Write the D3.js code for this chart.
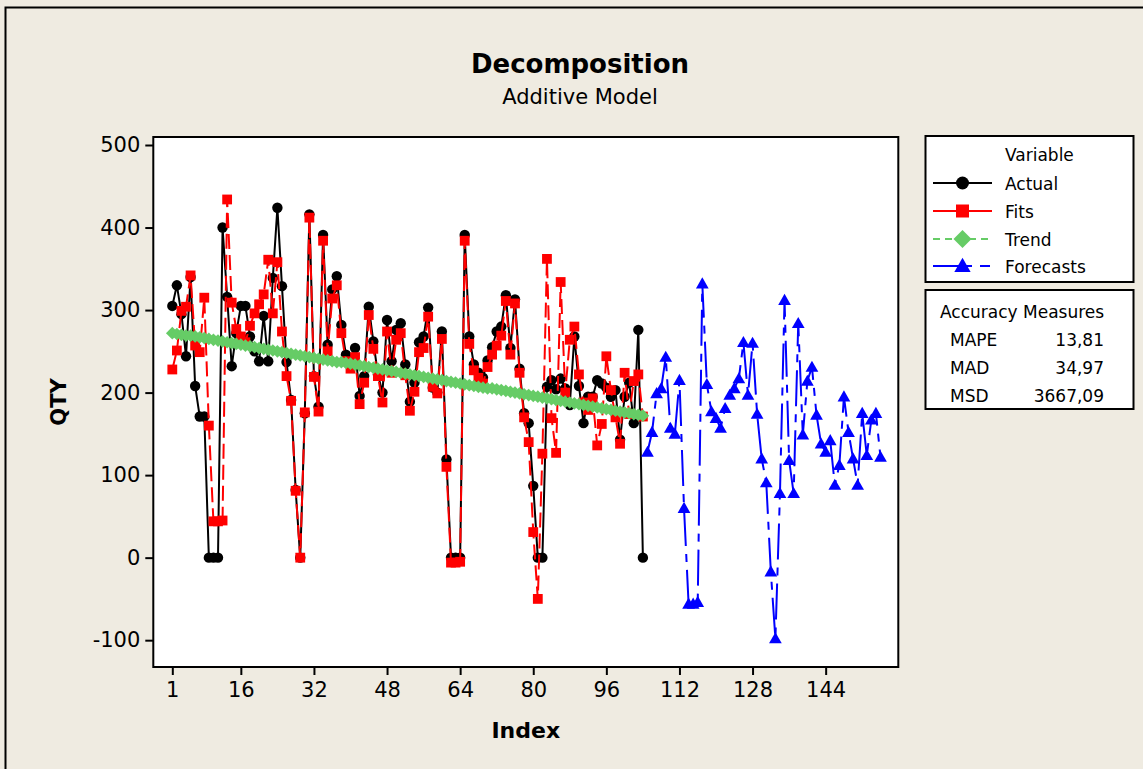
<!DOCTYPE html>
<html><head><meta charset="utf-8">
<script src="https://cdn.jsdelivr.net/npm/d3@7"></script>
<style>
body{margin:0;background:#efebe1;}
svg{display:block;font-family:"DejaVu Sans",Verdana,sans-serif;}
</style>
</head><body>
<svg id="chart" width="1143" height="769"></svg>
<script>
// ---------- data ----------
const actual = [305,330,295,244,340,208,171,171,0,0,0,400,316,232,272,305,305,268,250,238,
  293,238,339,424,329,237,191,82,0,175,416,220,183,391,258,325,341,282,246,238,
  254,196,220,304,262,222,200,288,238,276,284,234,189,212,261,268,303,206,200,274,
  119,0,0,0,391,268,234,224,218,239,255,274,280,318,254,313,229,175,163,87,
  0,0,207,215,204,217,205,185,268,208,163,195,195,215,211,206,195,203,143,195,
  212,163,276,0];
const fits = [228,251,299,304,342,257,249,315,160,44,44,45,434,309,277,268,261,281,296,307,
  319,361,296,358,274,220,190,81,0,176,412,219,177,384,250,314,330,272,238,229,
  243,186,212,294,253,220,188,274,224,264,272,221,178,201,249,254,292,207,199,265,
  110,-6,-6,-5,384,259,227,218,211,231,246,257,269,311,246,308,224,170,140,31,
  -50,126,362,169,127,334,200,264,280,222,188,179,193,136,162,244,203,170,138,224,
  174,214,222,171];
const trend = [272,271,270,269,269,268,267,266,265,264,263,262,261,260,259,258,257,256,255,254,
  253,252,251,250,249,248,247,246,245,244,243,242,241,240,239,238,237,237,236,235,
  234,233,232,231,230,229,228,227,226,225,224,223,222,221,220,219,218,217,216,215,
  214,213,212,211,210,209,208,207,206,205,205,204,203,202,201,200,199,198,197,196,
  195,194,193,192,191,190,189,188,187,186,185,184,183,182,181,180,179,178,177,176,
  175,174,173,172];
const forecasts = [128,152,199,205,243,157,150,215,60,-56,-56,-54,332,210,177,169,157,181,197,205,
  217,261,197,260,174,120,91,-17,-98,78,312,118,78,284,149,214,231,173,138,128,
  142,88,112,195,152,120,88,175,124,167,175,122];
const forecastStart = 105;
const xTicks = [1,16,32,48,64,80,96,112,128,144];
const yTicks = [-100,0,100,200,300,400,500];
const seriesNames = ["Actual","Fits","Trend","Forecasts"];
const accuracyLabels = ["MAPE","MAD","MSD"];
const accuracyValues = ["13,81","34,97","3667,09"];

// ---------- layout ----------
const svg = d3.select("#chart");
const W = 1143, H = 769;
const plot = {left:153.3, right:898.3, top:137, bottom:667};
const colors = {Actual:"#000000", Fits:"#ff0000", Trend:"#66cc66", Forecasts:"#0000ff"};
const dashes = {Actual:null, Fits:"15,6", Trend:"7,5", Forecasts:"36,8,8,8"};

const x = d3.scaleLinear().domain([-3.16,159.9]).range([plot.left, plot.right]);
const y = d3.scaleLinear().domain([-132.5,509.7]).range([plot.bottom, plot.top]);

svg.append("rect").attr("width",W).attr("height",H).attr("fill","#efebe1");
svg.append("rect").attr("x",5.5).attr("y",7.5).attr("width",W+20).attr("height",H+20)
  .attr("fill","none").attr("stroke","#000").attr("stroke-width",2);

// titles
svg.append("text").attr("x",580).attr("y",73).attr("text-anchor","middle")
  .attr("font-size",26).attr("font-weight","bold").text("Decomposition");
svg.append("text").attr("x",580).attr("y",104).attr("text-anchor","middle")
  .attr("font-size",21).text("Additive Model");

// plot area
svg.append("rect").attr("x",plot.left).attr("y",plot.top)
  .attr("width",plot.right-plot.left).attr("height",plot.bottom-plot.top).attr("fill","#fff");

// axes
const xAxis = svg.append("g").attr("transform",`translate(0,${plot.bottom})`)
  .call(d3.axisBottom(x).tickValues(xTicks).tickFormat(d=>String(d))
    .tickSize(8).tickSizeOuter(0).tickPadding(7));
const yAxis = svg.append("g").attr("transform",`translate(${plot.left},0)`)
  .call(d3.axisLeft(y).tickValues(yTicks).tickFormat(d=>String(d))
    .tickSize(8).tickSizeOuter(0).tickPadding(5));
[xAxis,yAxis].forEach(g=>{
  g.select(".domain").remove();
  g.selectAll("line").attr("stroke","#000").attr("stroke-width",2);
  g.selectAll("text").attr("font-size",21).attr("fill","#000").attr("font-family","DejaVu Sans, sans-serif");
});

svg.append("text").attr("x",(plot.left+plot.right)/2).attr("y",738).attr("text-anchor","middle")
  .attr("font-size",22).attr("font-weight","bold").text("Index");
svg.append("text").attr("transform",`translate(66,${(plot.top+plot.bottom)/2}) rotate(-90)`)
  .attr("text-anchor","middle").attr("font-size",21).attr("font-weight","bold").text("QTY");

// marker shapes
function markerPath(name, s){
  if(name==="Actual") return d3.symbol(d3.symbolCircle, Math.PI*s*s)();
  if(name==="Fits") return `M${-s},${-s}H${s}V${s}H${-s}Z`;
  if(name==="Trend") return `M0,${-s*1.2}L${s*1.2},0L0,${s*1.2}L${-s*1.2},0Z`;
  return `M0,${-s*1.2}L${s*1.2},${s*0.9}L${-s*1.2},${s*0.9}Z`;
}

const seriesData = {
  Actual: actual.map((v,i)=>({i:i+1,v})),
  Fits: fits.map((v,i)=>({i:i+1,v})),
  Trend: trend.map((v,i)=>({i:i+1,v})),
  Forecasts: forecasts.map((v,i)=>({i:forecastStart+i,v}))
};
const line = d3.line().x(d=>x(d.i)).y(d=>y(d.v));
const markerSize = {Actual:5.2, Fits:4.9, Trend:5.3, Forecasts:5.3};

seriesNames.forEach(name=>{
  const g = svg.append("g");
  g.append("path").datum(seriesData[name]).attr("d",line).attr("fill","none")
    .attr("stroke",colors[name]).attr("stroke-width",2)
    .attr("stroke-dasharray",dashes[name]);
  g.selectAll("path.m").data(seriesData[name]).join("path").attr("class","m")
    .attr("transform",d=>`translate(${x(d.i)},${y(d.v)})`)
    .attr("d",markerPath(name,markerSize[name])).attr("fill",colors[name]);
});

// frame
svg.append("rect").attr("x",plot.left).attr("y",plot.top)
  .attr("width",plot.right-plot.left).attr("height",plot.bottom-plot.top)
  .attr("fill","none").attr("stroke","#000").attr("stroke-width",2);

// legend
const lg = svg.append("g");
lg.append("rect").attr("x",925.5).attr("y",136).attr("width",208).attr("height",146)
  .attr("fill","#fff").attr("stroke","#000").attr("stroke-width",2);
lg.append("text").attr("x",1005).attr("y",161).attr("font-size",17).text("Variable");
const rowY = [183,211,239,266];
seriesNames.forEach((name,k)=>{
  const yy = rowY[k];
  const dash = name==="Trend" ? "7,5" : (name==="Forecasts" ? "39,8,10,20" : null);
  lg.append("line").attr("x1",933).attr("x2",992).attr("y1",yy).attr("y2",yy)
    .attr("stroke",colors[name]).attr("stroke-width",2).attr("stroke-dasharray",dash);
  lg.append("path").attr("transform",`translate(962.5,${yy})`)
    .attr("d",markerPath(name, name==="Trend"?7.5:(name==="Forecasts"?6.8:6.5)))
    .attr("fill",colors[name]);
  lg.append("text").attr("x",1005).attr("y",yy+6.5).attr("font-size",17).text(name);
});

// accuracy measures
const ag = svg.append("g");
ag.append("rect").attr("x",925.5).attr("y",290).attr("width",208).attr("height",119)
  .attr("fill","#fff").attr("stroke","#000").attr("stroke-width",2);
ag.append("text").attr("x",940).attr("y",318).attr("font-size",17).text("Accuracy Measures");
accuracyLabels.forEach((lab,k)=>{
  const yy = 345.5 + k*28;
  ag.append("text").attr("x",950).attr("y",yy).attr("font-size",17).text(lab);
  ag.append("text").attr("x",1104).attr("y",yy).attr("font-size",17)
    .attr("text-anchor","end").text(accuracyValues[k]);
});
</script>
</body></html>
